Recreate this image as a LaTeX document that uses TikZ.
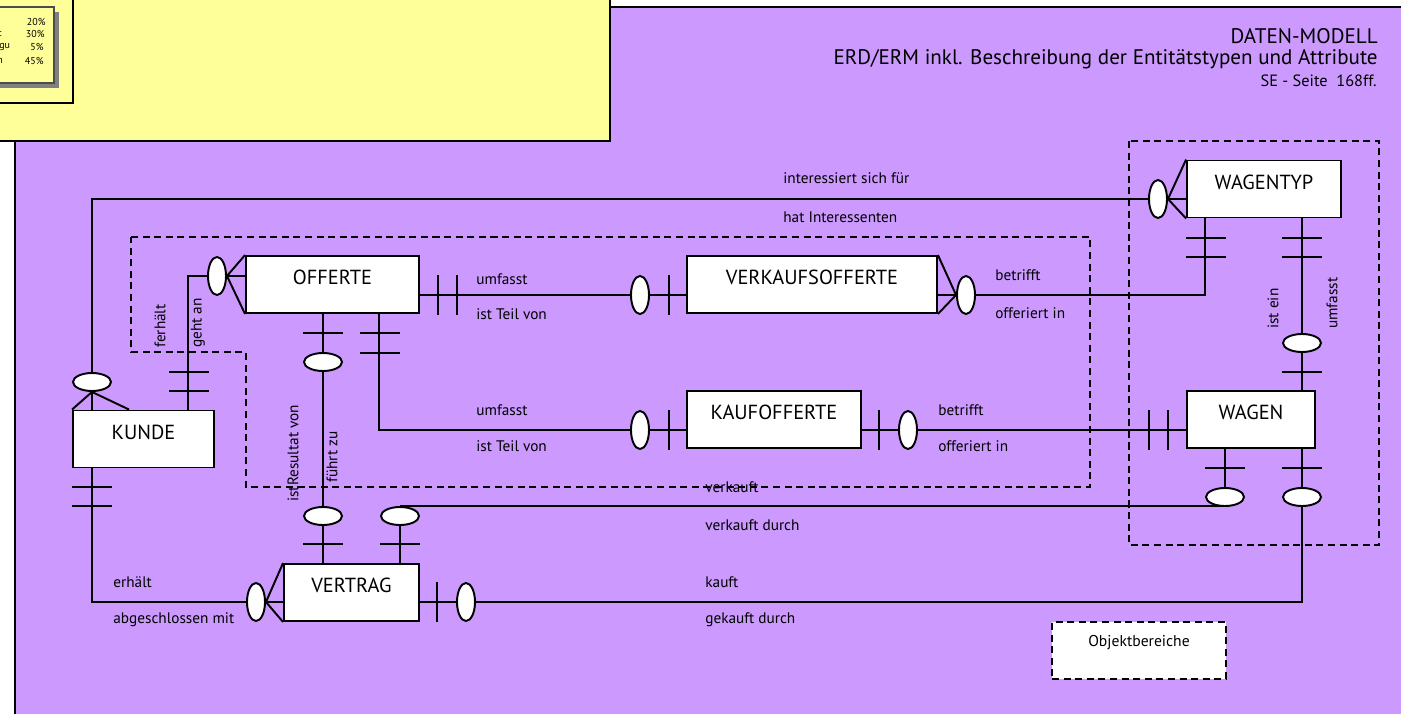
\documentclass[tikz,border=0pt]{standalone}
\usepackage{fontspec}
\setmainfont{PT Sans}
\usetikzlibrary{shapes.geometric}
\definecolor{erdlila}{RGB}{204,153,255}
\definecolor{erdgelb}{RGB}{255,255,153}
\newcommand{\hstrich}[2]{\draw[erdline] (#1-20,#2)--(#1+20,#2);}
\newcommand{\vstrich}[2]{\draw[erdline] (#1,#2-20)--(#1,#2+20);}

\begin{document}
\begin{tikzpicture}[x=0.02cm,y=-0.02cm,
    erdline/.style={line width=1.1pt},
    region/.style={line width=1.1pt,dash pattern=on 4pt off 2.6pt},
    entity/.style={rectangle,draw,fill=white,line width=1.1pt,minimum width=#1,
      minimum height=1.14cm,inner sep=0pt,text height=9pt,text depth=9pt,
      font=\fontsize{11.6}{14}\selectfont},
    hnull/.style={ellipse,draw,fill=white,line width=1.1pt,minimum width=0.76cm,
      minimum height=0.36cm,inner sep=0pt},
    vnull/.style={ellipse,draw,fill=white,line width=1.1pt,minimum width=0.36cm,
      minimum height=0.76cm,inner sep=0pt},
    rel/.style={font=\fontsize{8.7}{10}\selectfont,inner sep=0pt,anchor=west},
    relv/.style={rel,rotate=90},
    kopf/.style={font=\fontsize{12}{14}\selectfont,inner sep=0pt,anchor=base east},
    prozent/.style={font=\fontsize{5.7}{7}\selectfont,inner sep=0pt}]
  \clip (0,0) rectangle (1401,714);
  \fill[white] (0,0) rectangle (1401,714);
  \filldraw[fill=erdlila,draw=black,line width=1.1pt] (15,7) rectangle (1420,730);
  \filldraw[fill=erdgelb,draw=black,line width=1.3pt] (-10,-10) rectangle (610,141);
  \draw[line width=1.1pt] (-10,-10) rectangle (73,103);
  \fill[gray] (-10,12) rectangle (59,88);
  \filldraw[fill=erdgelb,draw=black!70,line width=0.6pt] (-10,7) rectangle (54,83);
  \node[prozent,anchor=east] (p1) at (46,22) {20\%};
  \node[prozent,anchor=east] (p2) at (45,34) {30\%};
  \node[prozent,anchor=east] (p3) at (44,47) {5\%};
  \node[prozent,anchor=east] (p4) at (44,61) {45\%};
  \node[prozent,anchor=west] (f2) at (-1,34) {:};
  \node[prozent,anchor=west] (f3) at (-1,47) {gu};
  \node[prozent,anchor=west] (f4) at (-3,61) {n};

  \node[kopf] (titel) at (1378,43) {DATEN-MODELL};
  \node[kopf] (untertitel) at (1378,64) {ERD/ERM inkl. Beschreibung der Entitätstypen und Attribute};
  \node[kopf,font=\fontsize{9.3}{11}\selectfont] (quelle) at (1377,86) {SE - Seite\ \ 168ff.};

  \draw[region] (131,237) -- (1090,237) -- (1090,487) -- (246,487) -- (246,352) -- (131,352) -- cycle;
  \draw[region] (1129,141) rectangle (1379,545);

  \node[entity=3.46cm] (offerte) at (332.5,284.5) {OFFERTE};
  \node[entity=5cm] (vko) at (812,284.5) {VERKAUFSOFFERTE};
  \node[entity=3.48cm] (ko) at (774,419.5) {KAUFOFFERTE};
  \node[entity=3.08cm] (wt) at (1264,189) {WAGENTYP};
  \node[entity=2.56cm] (wagen) at (1251,419.5) {WAGEN};
  \node[entity=2.82cm] (kunde) at (143.5,439) {KUNDE};
  \node[entity=2.7cm] (vertrag) at (351.5,592.5) {VERTRAG};
  \node[entity=3.48cm,region,font=\fontsize{8.9}{10}\selectfont,text height=8pt,text depth=13pt]
    (legende) at (1139,650.5) {Objektbereiche};

  \node[hnull] (kz1) at (92,382) {};
  \node[vnull] (wz1) at (1158,199) {};
  \node[vnull] (oz1) at (217,276) {};
  \node[vnull] (vz1) at (640,295) {};
  \node[vnull] (vz2) at (966,295) {};
  \node[vnull] (kz2) at (640,430) {};
  \node[vnull] (kz3) at (908,430) {};
  \node[hnull] (wz2) at (1302,343) {};
  \node[hnull] (oz2) at (323,362) {};
  \node[hnull] (vtz1) at (323,516) {};
  \node[hnull] (vtz2) at (400,516) {};
  \node[hnull] (wgz1) at (1225,497) {};
  \node[vnull] (vtz3) at (466,602) {};
  \node[hnull] (wgz2) at (1302,497) {};
  \node[vnull] (vtz4) at (256,602) {};

  \draw[erdline] (kunde.north -| kz1) -- (kz1) |- (wz1) -- (wz1 -| wt.west);
  \draw[erdline] (kunde.north west) -- (kz1.south) -- ([xshift=1.14cm]kunde.north west);
  \draw[erdline] (wt.north west) -- (wz1.east) -- (wt.south west);
  \draw[erdline] ([xshift=2.32cm]kunde.north west) |- (oz1) -- (oz1 -| offerte.west);
  \draw[erdline] (offerte.north west) -- (oz1.east) -- (offerte.south west);
  \draw[erdline] (offerte.east |- vz1) -- (vz1) -- (vz1 -| vko.west);
  \draw[erdline] (vko.east |- vz2) -- (vz2) -| ([xshift=0.38cm]wt.south west);
  \draw[erdline] (vko.north east) -- (vz2.west) -- (vko.south east);
  \draw[erdline] (wt.south -| wz2) -- (wz2) -- (wz2 |- wagen.north);
  \draw[erdline] ([xshift=2.68cm]offerte.south west) |- (kz2) -- (kz2 -| ko.west);
  \draw[erdline] (ko.east |- kz3) -- (kz3) -- (kz3 -| wagen.west);
  \draw[erdline] (offerte.south -| oz2) -- (oz2) -- (vtz1) -- (vtz1 |- vertrag.north);
  \draw[erdline] (vertrag.north -| vtz2) -- (vtz2) (vtz2.north) -- (vtz2.north -| wgz1) (wgz1) -- (wgz1 |- wagen.south);
  \draw[erdline] (vertrag.east |- vtz3) -- (vtz3) -| (wgz2) (wgz2) -- (wgz2 |- wagen.south);
  \draw[erdline] (kunde.south -| kz1) |- (vtz4) -- (vtz4 -| vertrag.west);
  \draw[erdline] (vertrag.north west) -- (vtz4.east) -- (vertrag.south west);

  \hstrich{189}{372} \hstrich{189}{391}
  \vstrich{438}{295} \vstrich{457}{295} \vstrich{669}{295}
  \hstrich{1206}{238} \hstrich{1206}{257}
  \hstrich{1302}{238} \hstrich{1302}{257} \hstrich{1302}{372}
  \hstrich{380}{333} \hstrich{380}{353} \vstrich{669}{430}
  \vstrich{879}{430} \vstrich{1149}{430} \vstrich{1168}{430}
  \hstrich{323}{333} \hstrich{323}{544}
  \hstrich{400}{544} \hstrich{1225}{468}
  \vstrich{437}{602} \hstrich{1302}{468}
  \hstrich{92}{487} \hstrich{92}{506}

  \node[rel] (l1) at (783,178) {interessiert sich für};
  \node[rel] (l2) at (783,217) {hat Interessenten};
  \node[rel] (l3) at (476,279) {umfasst};
  \node[rel] (l4) at (476,314) {ist Teil von};
  \node[rel] (l5) at (995,275) {betrifft};
  \node[rel] (l6) at (995,313) {offeriert in};
  \node[rel] (l7) at (476,410) {umfasst};
  \node[rel] (l8) at (476,446) {ist Teil von};
  \node[rel] (l9) at (938,410) {betrifft};
  \node[rel] (l10) at (938,446) {offeriert in};
  \node[rel] (l11) at (705,487) {verkauft};
  \node[rel] (l12) at (705,525) {verkauft durch};
  \node[rel] (l13) at (705,582) {kauft};
  \node[rel] (l14) at (705,620) {gekauft durch};
  \node[rel] (l15) at (113,582) {erhält};
  \node[rel] (l16) at (113,620) {abgeschlossen mit};
  \node[relv] (l17) at (160,348) {ferhält};
  \node[relv] (l18) at (198,348) {geht an};
  \node[relv] (l19) at (293,502) {istResultat von};
  \node[relv] (l20) at (332,483) {führt zu};
  \node[relv] (l21) at (1273,329) {ist ein};
  \node[relv] (l22) at (1332,329) {umfasst};
\end{tikzpicture}
\end{document}
